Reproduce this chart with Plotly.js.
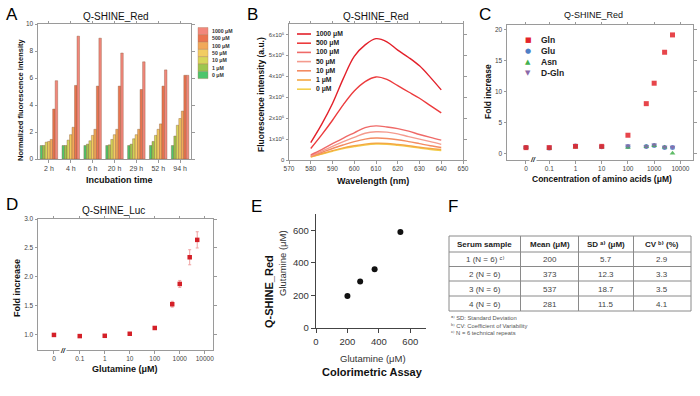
<!DOCTYPE html>
<html><head><meta charset="utf-8">
<script src="https://cdn.plot.ly/plotly-3.0.1.min.js"></script>
<style>html,body{margin:0;padding:0;background:#fff}#chart{width:700px;height:396px}</style>
</head><body><div id="chart"></div>
<script>
// ---------- Panel A data ----------
const timeLabels = ['2 h','4 h','6 h','20 h','29 h','52 h','94 h'];
const concLabelsA = ['0 μM','1 μM','10 μM','50 μM','100 μM','500 μM','1000 μM'];
const a_0    = [1.0, 1.0, 1.0, 1.0, 1.0, 1.0, 1.0];
const a_1    = [1.0, 1.0, 1.1, 1.05, 1.1, 1.3, 1.7];
const a_10   = [1.25, 1.4, 1.35, 1.45, 1.5, 1.75, 2.5];
const a_50   = [1.3, 1.8, 1.75, 1.8, 1.8, 2.2, 3.0];
const a_100  = [1.45, 2.35, 2.2, 2.2, 2.2, 2.6, 3.55];
const a_500  = [3.7, 5.45, 5.4, 5.4, 5.15, 5.4, 6.2];
const a_1000 = [5.8, 9.1, 8.95, 7.85, 7.2, 6.6, 6.2];
const colorsA = ['#4ec56c','#9cc64e','#d6d65a','#f2cc62','#f1a95a','#ea7450','#f2877c'];

// ---------- Panel B data ----------
const wavelength = [580,585,590,595,600,605,610,615,620,625,630,635,640];
const b_1000 = [0.83e5,1.7e5,2.7e5,3.9e5,4.95e5,5.5e5,5.8e5,5.65e5,5.25e5,4.9e5,4.5e5,3.95e5,3.35e5];
const b_500  = [0.55e5,1.2e5,1.9e5,2.65e5,3.3e5,3.75e5,3.97e5,3.85e5,3.55e5,3.25e5,2.95e5,2.6e5,2.25e5];
const b_100  = [0.25e5,0.5e5,0.78e5,1.05e5,1.3e5,1.55e5,1.63e5,1.58e5,1.5e5,1.38e5,1.22e5,1.08e5,0.95e5];
const b_50   = [0.2e5,0.42e5,0.65e5,0.88e5,1.08e5,1.28e5,1.35e5,1.33e5,1.25e5,1.12e5,1.0e5,0.88e5,0.75e5];
const b_10   = [0.18e5,0.36e5,0.55e5,0.72e5,0.88e5,1.0e5,1.05e5,1.03e5,0.97e5,0.88e5,0.78e5,0.68e5,0.6e5];
const b_1    = [0.15e5,0.3e5,0.45e5,0.58e5,0.68e5,0.76e5,0.8e5,0.79e5,0.74e5,0.68e5,0.61e5,0.55e5,0.5e5];
const b_0    = [0.14e5,0.28e5,0.42e5,0.55e5,0.64e5,0.72e5,0.76e5,0.75e5,0.7e5,0.64e5,0.57e5,0.5e5,0.45e5];
const concLabelsB = ['1000 μM','500 μM','100 μM','50 μM','10 μM','1 μM','0 μM'];
const colorsB = ['#e3202a','#ec3b3d','#ef6a68','#f49b8e','#f38b62','#f4a843','#f3cf4c'];
const bTickVals = [0,1e5,2e5,3e5,4e5,5e5,6e5];
const bTickText = ['0','1x10⁵','2x10⁵','3x10⁵','4x10⁵','5x10⁵','6x10⁵'];

// ---------- Panel C data ----------
const concC = [0, 0.1, 1, 10, 100, 500, 1000, 2500, 5000];
const gln  = [1.0, 1.0, 1.2, 1.2, 3.0, 8.1, 11.4, 16.4, 19.2];
const glu  = [1.0, 0.95, 1.25, 1.15, 1.2, 1.2, 1.35, 1.0, 1.0];
const asn  = [1.0, 0.9, 1.1, 1.1, 1.0, 1.15, 1.3, 1.05, 0.1];
const dgln = [1.0, 1.1, 1.3, 1.2, 1.3, 1.2, 1.45, 1.1, 1.1];
const namesC = ['Gln','Glu','Asn','D-Gln'];
const colorsC = ['#e3242b','#4f7fc6','#43b04c','#8a68a8'];
const symbolsC = ['square','circle','triangle-up','triangle-down'];
const concTickLabels = ['0','0.1','1','10','100','1000','10000'];

// ---------- Panel D data ----------
const concD = [0, 0.1, 1, 10, 100, 500, 1000, 2500, 5000];
const lucFold = [1.0, 0.98, 0.985, 1.02, 1.12, 1.53, 1.88, 2.34, 2.64];
const lucErr  = [0.02, 0.02, 0.02, 0.02, 0.02, 0.05, 0.06, 0.13, 0.14];

// ---------- Panel E data ----------
const colorimetric = [200, 281, 373, 537];
const qshineRed    = [197, 285, 360, 590];

// ---------- Panel F data ----------
const tableHeader = ['<b>Serum sample</b>','<b>Mean (μM)</b>','<b>SD ᵃ⁾ (μM)</b>','<b>CV ᵇ⁾ (%)</b>'];
const serumSample = ['1 (N = 6) ᶜ⁾','2 (N = 6)','3 (N = 6)','4 (N = 6)'];
const meanUM = ['200','373','537','281'];
const sdUM = ['5.7','12.3','18.7','11.5'];
const cvPct = ['2.9','3.3','3.5','4.1'];
const footnotes = ['ᵃ⁾ SD: Standard Deviation','ᵇ⁾ CV: Coefficient of Variability','ᶜ⁾ N = 6 technical repeats'];

// ---------- layout helpers ----------
const W = 700, H = 396;
const FONT = 'Liberation Sans, Arial, DejaVu Sans, sans-serif';
const fx = v => v / W;
const fy = v => 1 - v / H;
const ZERO_C = 0.013, ZERO_D = 0.0093;  // placement of "0" on the broken log axes
const posC = concC.map(c => c === 0 ? ZERO_C : c);
const posD = concD.map(c => c === 0 ? ZERO_D : c);

function ann(text, x, y, size, opts) {
  return Object.assign({text, x: fx(x), y: fy(y), xref:'paper', yref:'paper', showarrow:false,
    xanchor:'center', yanchor:'middle', font:{family:FONT, size:size, color:'#111'}}, opts || {});
}

const traces = [];
const seriesA = [a_0,a_1,a_10,a_50,a_100,a_500,a_1000];
seriesA.forEach((ys, i) => traces.push({type:'bar', x: timeLabels, y: ys, name: concLabelsA[i],
  xaxis:'x', yaxis:'y', marker:{color: colorsA[i], line:{color:'#8a5a3a', width:0.4}}}));

const seriesB = [b_1000,b_500,b_100,b_50,b_10,b_1,b_0];
seriesB.slice().reverse().forEach((ys, j) => {
  const i = seriesB.length - 1 - j;
  traces.push({type:'scatter', mode:'lines', x: wavelength, y: ys, name: concLabelsB[i],
    xaxis:'x2', yaxis:'y2', line:{color: colorsB[i], width:1.4, shape:'spline'}});
});

const seriesC = [gln, glu, asn, dgln];
[1,2,3,0].forEach(i => traces.push({type:'scatter', mode:'markers', x: posC, y: seriesC[i], name: namesC[i],
  xaxis:'x3', yaxis:'y3', marker:{color: colorsC[i], symbol: symbolsC[i], size:5, opacity:0.85}}));

traces.push({type:'scatter', mode:'markers', x: posD, y: lucFold, name:'Q-SHINE_Luc',
  xaxis:'x4', yaxis:'y4', marker:{color:'#d42028', symbol:'square', size:4.5},
  error_y:{type:'data', array: lucErr, color:'#f0a0a0', thickness:1, width:1.5}});

traces.push({type:'scatter', mode:'markers', x: colorimetric, y: qshineRed, name:'Serum samples',
  xaxis:'x5', yaxis:'y5', marker:{color:'#111', size:6}});

const base = {showline:true, linecolor:'#9a9a9a', linewidth:1, mirror:'ticks', ticks:'outside', ticklen:2.5,
  tickcolor:'#9a9a9a', tickfont:{family:FONT, size:6.5, color:'#444'}, showgrid:false, zeroline:false, fixedrange:true};
const ax = o => Object.assign({}, base, o);

const layout = {
  width: W, height: H, margin:{l:0,r:0,t:0,b:0}, paper_bgcolor:'#fff', plot_bgcolor:'#fff',
  showlegend:false, barmode:'group', bargap:0.2, bargroupgap:0, font:{family:FONT},
  xaxis:  ax({domain:[fx(38), fx(191)], anchor:'y', type:'category', tickfont:{family:FONT, size:7, color:'#444'}}),
  yaxis:  ax({domain:[fy(159), fy(24)], anchor:'x', range:[0,10], dtick:2}),
  xaxis2: ax({domain:[fx(289), fx(463)], anchor:'y2', range:[570,650], dtick:10}),
  yaxis2: ax({domain:[fy(160), fy(24)], anchor:'x2', range:[0,6.5e5], tickvals:bTickVals, ticktext:bTickText, tickfont:{family:FONT, size:6, color:'#444'}}),
  xaxis3: ax({domain:[fx(507), fx(693)], anchor:'y3', type:'log', range:[-2.61,4.48],
    tickvals:[ZERO_C,0.1,1,10,100,1000,10000], ticktext:concTickLabels}),
  yaxis3: ax({domain:[fy(160), fy(25)], anchor:'x3', range:[-1,20.8], dtick:5}),
  xaxis4: ax({domain:[fx(38), fx(213)], anchor:'y4', type:'log', range:[-2.67,4.33],
    tickvals:[ZERO_D,0.1,1,10,100,1000,10000], ticktext:concTickLabels}),
  yaxis4: ax({domain:[fy(350), fy(219)], anchor:'x4', range:[0.74,3.0], dtick:0.5, tickformat:'.1f'}),
  xaxis5: {domain:[fx(316), fx(426)], anchor:'y5', range:[0,700], tickvals:[0,200,400,600], showline:true,
    linecolor:'#444', linewidth:1.3, ticks:'outside', ticklen:4, tickcolor:'#444', showgrid:false, zeroline:false,
    tickfont:{family:FONT, size:9.5, color:'#333'}, fixedrange:true},
  yaxis5: {domain:[fy(328), fy(214)], anchor:'x5', range:[0,700], tickvals:[0,200,400,600], showline:true,
    linecolor:'#444', linewidth:1.3, ticks:'outside', ticklen:4, tickcolor:'#444', showgrid:false, zeroline:false,
    tickfont:{family:FONT, size:9.5, color:'#333'}, fixedrange:true},
  shapes: [], annotations: []
};

const A = layout.annotations, S = layout.shapes;
// panel letters
[['A',12,14],['B',252,14],['C',485,15],['D',12,205],['E',256,206],['F',453,206]].forEach(p =>
  A.push(ann(p[0], p[1], p[2], 17, {font:{family:FONT, size:17, color:'#000'}})));
// panel titles
A.push(ann('Q-SHINE_Red', 116, 16, 10));
A.push(ann('Q-SHINE_Red', 376, 16, 10));
A.push(ann('Q-SHINE_Red', 593, 15, 9));
A.push(ann('Q-SHINE_Luc', 113, 210, 10));
// axis titles
A.push(ann('<b>Incubation time</b>', 119, 180, 9));
A.push(ann('<b>Normalized fluorescence intensity</b>', 20, 100, 7.5, {textangle:-90}));
A.push(ann('<b>Wavelength (nm)</b>', 373, 181, 9));
A.push(ann('<b>Fluorescence intensity (a.u.)</b>', 261, 95, 8.5, {textangle:-90}));
A.push(ann('<b>Concentration of amino acids (μM)</b>', 602, 179, 8.5));
A.push(ann('<b>Fold increase</b>', 488, 92, 8.5, {textangle:-90}));
A.push(ann('<b>Glutamine (μM)</b>', 125, 369, 9));
A.push(ann('<b>Fold increase</b>', 17, 288, 9, {textangle:-90}));
A.push(ann('<b>Q-SHINE_Red</b>', 269, 292, 11, {textangle:-90}));
A.push(ann('Glutamine (μM)', 282, 263, 9.5, {textangle:-90, font:{family:FONT, size:9.5, color:'#333'}}));
A.push(ann('Glutamine (μM)', 373, 358, 9.5, {font:{family:FONT, size:9.5, color:'#333'}}));
A.push(ann('<b>Colorimetric Assay</b>', 372, 372, 11));
// axis break marks
A.push(ann('<b><i>//</i></b>', 533, 160, 7, {bgcolor:'#fff', borderpad:0}));
A.push(ann('<b><i>//</i></b>', 63, 350, 7, {bgcolor:'#fff', borderpad:0}));
// legend A (1000 on top)
for (let k = 0; k < 7; k++) {
  const i = 6 - k, y0 = 27.5 + k * 7.3;
  S.push({type:'rect', xref:'paper', yref:'paper', x0:fx(198), x1:fx(208), y0:fy(y0+7.3), y1:fy(y0),
    fillcolor: colorsA[i], line:{color:'#b08060', width:0.4}});
  A.push(ann('<b>' + concLabelsA[i] + '</b>', 210, y0 + 3.65, 5.2, {xanchor:'left', font:{family:FONT, size:5.2, color:'#333'}}));
}
// legend B
concLabelsB.forEach((lab, i) => {
  const y = 34 + i * 9.2;
  S.push({type:'line', xref:'paper', yref:'paper', x0:fx(297), x1:fx(311), y0:fy(y), y1:fy(y), line:{color: colorsB[i], width:1.6}});
  A.push(ann('<b>' + lab + '</b>', 314, y, 6.8, {xanchor:'left', font:{family:FONT, size:6.8, color:'#222'}}));
});
// legend C
const glyphC = ['■','●','▲','▼'];
namesC.forEach((n, i) => {
  const y = 40 + i * 11;
  A.push(ann(glyphC[i], 528, y, 7, {font:{family:'DejaVu Sans', size:7, color: colorsC[i]}}));
  A.push(ann('<b>' + n + '</b>', 539, y, 8.5, {xanchor:'left', font:{family:FONT, size:8.5, color:'#222'}}));
});
// table F (grid lines + cell texts)
const colEdges = [449, 520.5, 578.5, 633.5, 691];
const rowEdges = [236, 252, 266.5, 281, 296, 311];
const gridLine = {color:'#8a8a8a', width:1};
rowEdges.forEach(y => S.push({type:'line', xref:'paper', yref:'paper', x0:fx(colEdges[0]), x1:fx(colEdges[4]), y0:fy(y), y1:fy(y), line:gridLine}));
colEdges.forEach(x => S.push({type:'line', xref:'paper', yref:'paper', x0:fx(x), x1:fx(x), y0:fy(rowEdges[0]), y1:fy(rowEdges[5]), line:gridLine}));
const tableCols = [serumSample, meanUM, sdUM, cvPct];
tableHeader.forEach((h, c) => A.push(ann(h, (colEdges[c] + colEdges[c+1]) / 2, (rowEdges[0] + rowEdges[1]) / 2 + 0.5, 8,
  {font:{family:FONT, size:8, color:'#222'}})));
tableCols.forEach((col, c) => col.forEach((v, r) => A.push(ann(v, (colEdges[c] + colEdges[c+1]) / 2, (rowEdges[r+1] + rowEdges[r+2]) / 2 + 0.5, 8,
  {font:{family:FONT, size:8, color:'#444'}}))));
// table footnotes
footnotes.forEach((t, i) => A.push(ann(t, 449, 318 + i * 7.6, 5.8, {xanchor:'left', font:{family:FONT, size:5.8, color:'#555'}})));

Plotly.newPlot('chart', traces, layout, {staticPlot:true, displayModeBar:false});
</script></body></html>
